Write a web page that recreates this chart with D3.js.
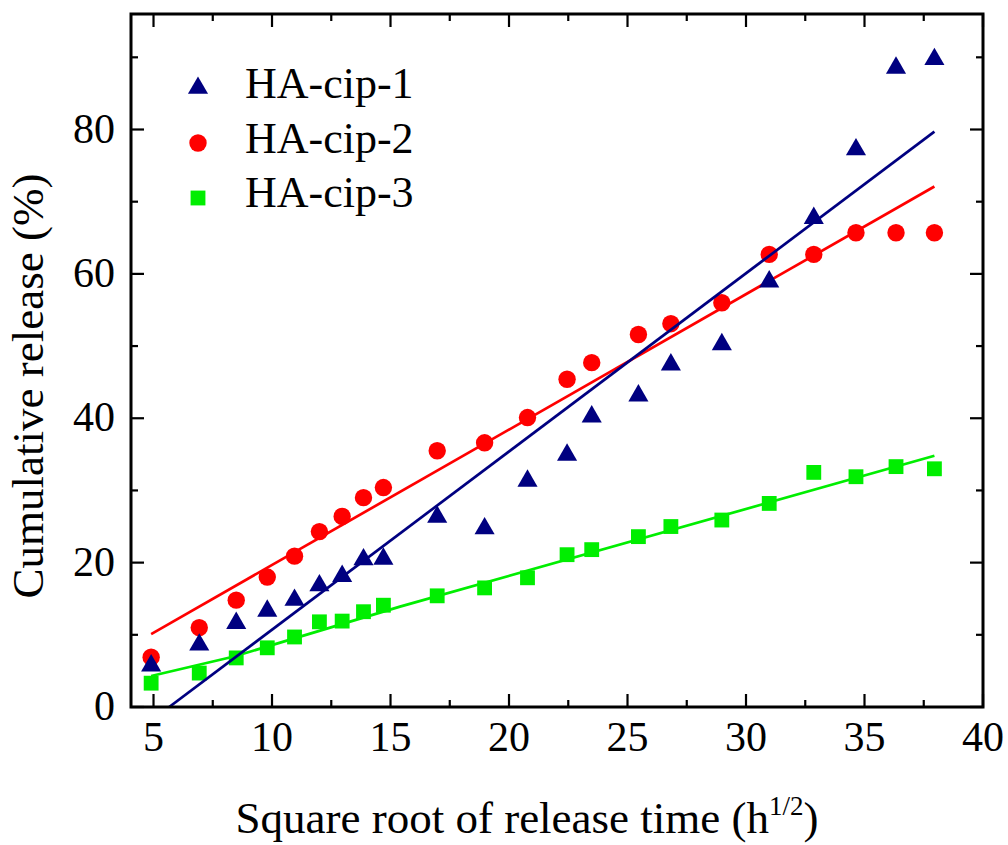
<!DOCTYPE html>
<html>
<head>
<meta charset="utf-8">
<script src="https://cdn.jsdelivr.net/npm/d3@7"></script>
<style>
  html, body { margin: 0; padding: 0; background: #fff; }
  svg { display: block; }
</style>
</head>
<body>
<svg id="chart" width="1008" height="845" font-family="'Liberation Serif', 'DejaVu Serif', serif"></svg>
<script>
// ---- data ----
const sqrtTime = [4.9, 6.93, 8.49, 9.8, 10.95, 12, 12.96, 13.86, 14.7, 16.97, 18.97, 20.78, 22.45, 23.49, 25.46, 26.83, 28.98, 30.98, 32.86, 34.64, 36.33, 37.95];
const cip1 = [6.0, 8.9, 11.9, 13.6, 15.1, 17.1, 18.4, 20.7, 20.8, 26.6, 25.0, 31.6, 35.2, 40.5, 43.4, 47.7, 50.5, 59.2, 68.0, 77.5, 88.8, 90.0];
const cip2 = [6.9, 11.0, 14.8, 18.0, 20.9, 24.3, 26.4, 29.0, 30.4, 35.5, 36.6, 40.1, 45.4, 47.7, 51.6, 53.1, 56.0, 62.7, 62.7, 65.7, 65.7, 65.7];
const cip3 = [3.3, 4.7, 6.8, 8.2, 9.7, 11.8, 11.9, 13.2, 14.1, 15.4, 16.5, 17.9, 21.1, 21.8, 23.6, 25.0, 25.9, 28.2, 32.5, 31.9, 33.3, 33.0];
const fit1X = [5.66, 37.95], fit1Y = [0, 79.7];
const fit2X = [4.9, 37.95], fit2Y = [10.1, 72.1];
const fit3X = [4.9, 8.4, 15.4, 37.95], fit3Y = [4.3, 7.0, 13.9, 34.8];
const seriesNames = ["HA-cip-1", "HA-cip-2", "HA-cip-3"];
const xTicks = [5, 10, 15, 20, 25, 30, 35, 40];
const yTicks = [0, 20, 40, 60, 80];

// ---- layout ----
const L = 131, R = 983, T = 14, B = 707;
const svg = d3.select("#chart");
const x = d3.scaleLinear().domain([4.05, 40]).range([L, R]);
const y = d3.scaleLinear().domain([0, 96]).range([B, T]);

const colors = ["#000080", "#ff0000", "#00ee00"];

svg.append("defs").append("clipPath").attr("id", "clip")
  .append("rect").attr("x", L).attr("y", T).attr("width", R - L).attr("height", B - T);

const plot = svg.append("g").attr("clip-path", "url(#clip)");

function fitLine(xs, ys, color) {
  const pts = xs.map((v, i) => [v, ys[i]]);
  plot.append("path")
    .attr("d", d3.line().x(d => x(d[0])).y(d => y(d[1]))(pts))
    .attr("fill", "none").attr("stroke", color).attr("stroke-width", 2.7);
}

const tri = d3.symbol().type(d3.symbolTriangle).size(175);
const sq = d3.symbol().type(d3.symbolSquare).size(220);

// series 3 (green)
fitLine(fit3X, fit3Y, colors[2]);
plot.selectAll(".s3").data(sqrtTime.map((v, i) => [v, cip3[i]])).enter()
  .append("path").attr("d", sq).attr("fill", colors[2])
  .attr("transform", d => `translate(${x(d[0])},${y(d[1])})`);

// series 2 (red)
plot.selectAll(".s2").data(sqrtTime.map((v, i) => [v, cip2[i]])).enter()
  .append("circle").attr("r", 8.7).attr("fill", colors[1])
  .attr("cx", d => x(d[0])).attr("cy", d => y(d[1]));
fitLine(fit2X, fit2Y, colors[1]);

// series 1 (navy)
plot.selectAll(".s1").data(sqrtTime.map((v, i) => [v, cip1[i]])).enter()
  .append("path").attr("d", tri).attr("fill", colors[0])
  .attr("transform", d => `translate(${x(d[0])},${y(d[1]) + 2})`);
fitLine(fit1X, fit1Y, colors[0]);

// ---- axes ----
const ax = svg.append("g");
const xMinor = d3.range(7.5, 40, 5);
const yMinor = d3.range(10, 96, 20);
const tw = 2.2;
xTicks.concat(xMinor).forEach(v => {
  const len = xTicks.includes(v) ? 13 : 7;
  ax.append("line").attr("x1", x(v)).attr("x2", x(v)).attr("y1", B).attr("y2", B - len)
    .attr("stroke", "#000").attr("stroke-width", tw);
  ax.append("line").attr("x1", x(v)).attr("x2", x(v)).attr("y1", T).attr("y2", T + len)
    .attr("stroke", "#000").attr("stroke-width", tw);
});
yTicks.concat(yMinor).forEach(v => {
  const len = yTicks.includes(v) ? 13 : 7;
  ax.append("line").attr("x1", L).attr("x2", L + len).attr("y1", y(v)).attr("y2", y(v))
    .attr("stroke", "#000").attr("stroke-width", tw);
  ax.append("line").attr("x1", R).attr("x2", R - len).attr("y1", y(v)).attr("y2", y(v))
    .attr("stroke", "#000").attr("stroke-width", tw);
});
ax.append("rect").attr("x", L).attr("y", T).attr("width", R - L).attr("height", B - T)
  .attr("fill", "none").attr("stroke", "#000").attr("stroke-width", 3);

xTicks.forEach(v => {
  ax.append("text").attr("x", x(v)).attr("y", 751).attr("text-anchor", "middle")
    .attr("font-size", 42).text(v);
});
yTicks.forEach(v => {
  ax.append("text").attr("x", 115).attr("y", y(v) + 13).attr("text-anchor", "end")
    .attr("font-size", 42).text(v);
});

// axis titles
const xt = svg.append("text").attr("x", 527).attr("y", 833).attr("text-anchor", "middle")
  .attr("font-size", 45);
xt.append("tspan").text("Square root of release time (h");
xt.append("tspan").attr("font-size", 27).attr("dy", -18).text("1/2");
xt.append("tspan").attr("dy", 18).text(")");

svg.append("text").attr("transform", "translate(43,386) rotate(-90)")
  .attr("text-anchor", "middle").attr("font-size", 45).text("Cumulative release (%)");

// ---- legend ----
const legY = [98, 153, 207];
const lg = svg.append("g");
lg.append("path").attr("d", tri).attr("fill", colors[0])
  .attr("transform", `translate(198,${legY[0] - 10})`);
lg.append("circle").attr("r", 8.7).attr("fill", colors[1]).attr("cx", 198).attr("cy", legY[1] - 10);
lg.append("path").attr("d", sq).attr("fill", colors[2])
  .attr("transform", `translate(198,${legY[2] - 9})`);
seriesNames.forEach((n, i) => {
  lg.append("text").attr("x", 245).attr("y", legY[i]).attr("font-size", 44).text(n);
});
</script>
</body>
</html>
